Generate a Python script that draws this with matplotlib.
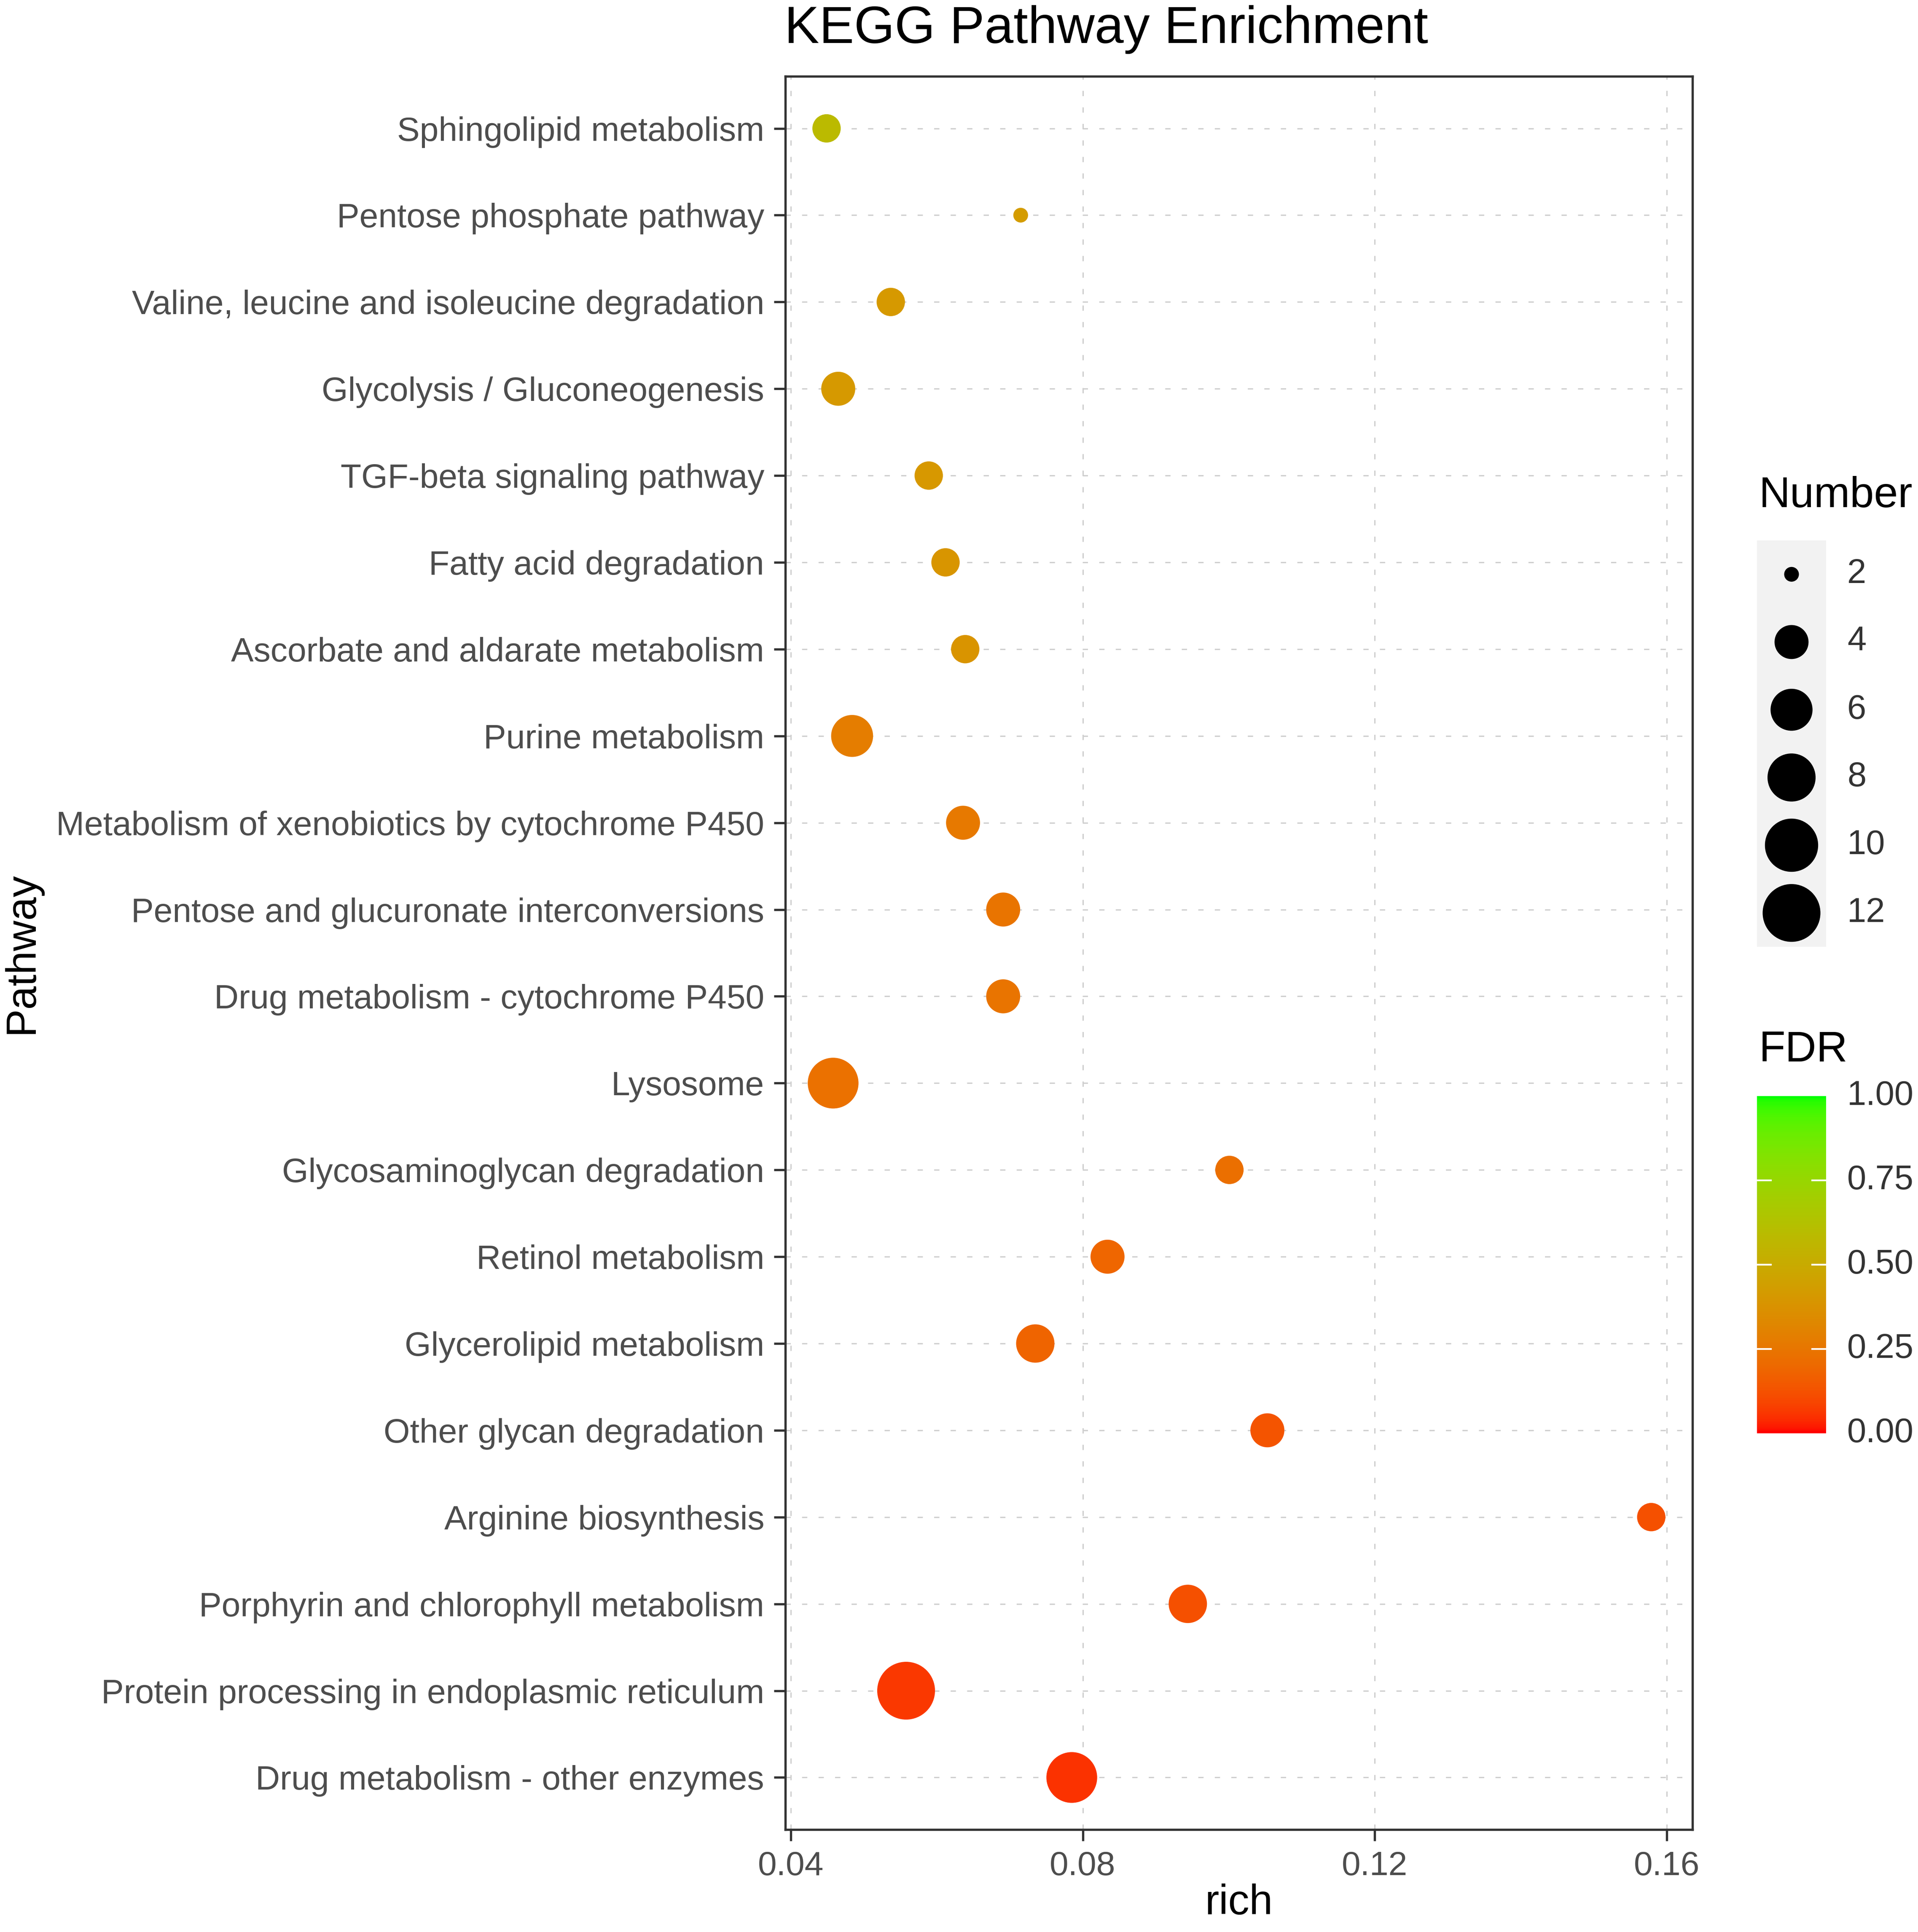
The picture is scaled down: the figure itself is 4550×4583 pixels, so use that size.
import numpy as np
import matplotlib
matplotlib.use("Agg")
import matplotlib.pyplot as plt
from matplotlib.colors import ListedColormap

plt.rcParams['font.family'] = ['Liberation Sans', 'DejaVu Sans']
plt.rcParams['lines.scale_dashes'] = False

# ---------------- data ----------------
pathways = [
    "Sphingolipid metabolism",
    "Pentose phosphate pathway",
    "Valine, leucine and isoleucine degradation",
    "Glycolysis / Gluconeogenesis",
    "TGF-beta signaling pathway",
    "Fatty acid degradation",
    "Ascorbate and aldarate metabolism",
    "Purine metabolism",
    "Metabolism of xenobiotics by cytochrome P450",
    "Pentose and glucuronate interconversions",
    "Drug metabolism - cytochrome P450",
    "Lysosome",
    "Glycosaminoglycan degradation",
    "Retinol metabolism",
    "Glycerolipid metabolism",
    "Other glycan degradation",
    "Arginine biosynthesis",
    "Porphyrin and chlorophyll metabolism",
    "Protein processing in endoplasmic reticulum",
    "Drug metabolism - other enzymes",
]
rich = [0.0449, 0.0715, 0.0537, 0.0465, 0.0589, 0.0612, 0.0639, 0.0484,
        0.0636, 0.0691, 0.0691, 0.0458, 0.1001, 0.0834, 0.0735, 0.1053,
        0.1579, 0.0944, 0.0558, 0.0785]
number = [3, 2, 3, 4, 3, 3, 3, 6, 4, 4, 4, 9, 3, 4, 5, 4, 3, 5, 12, 9]
fdr = [0.58, 0.42, 0.41, 0.41, 0.40, 0.39, 0.38, 0.28, 0.26, 0.24,
       0.24, 0.23, 0.22, 0.19, 0.18, 0.13, 0.12, 0.12, 0.06, 0.05]

size_breaks = [2, 4, 6, 8, 10, 12]
fdr_breaks = [0.00, 0.25, 0.50, 0.75, 1.00]
x_ticks = [0.04, 0.08, 0.12, 0.16]

# ---------------- helpers ----------------
def srgb_to_lab(rgb):
    rgb = np.asarray(rgb, float)
    lin = np.where(rgb <= 0.04045, rgb / 12.92, ((rgb + 0.055) / 1.055) ** 2.4)
    M = np.array([[0.4124, 0.3576, 0.1805],
                  [0.2126, 0.7152, 0.0722],
                  [0.0193, 0.1192, 0.9505]])
    xyz = M @ lin / np.array([0.95047, 1.0, 1.08883])
    f = np.where(xyz > 0.008856, np.cbrt(xyz), 7.787 * xyz + 16 / 116)
    return np.array([116 * f[1] - 16, 500 * (f[0] - f[1]), 200 * (f[1] - f[2])])

def lab_to_srgb(lab):
    L, a, b = lab
    fy_ = (L + 16) / 116
    fx_ = fy_ + a / 500
    fz_ = fy_ - b / 200
    f = np.array([fx_, fy_, fz_])
    xyz = np.where(f > 0.206893, f ** 3, (f - 16 / 116) / 7.787)
    xyz = xyz * np.array([0.95047, 1.0, 1.08883])
    Minv = np.array([[3.2406, -1.5372, -0.4986],
                     [-0.9689, 1.8758, 0.0415],
                     [0.0557, -0.2040, 1.0570]])
    lin = np.clip(Minv @ xyz, 0, 1)
    rgb = np.where(lin <= 0.0031308, 12.92 * lin, 1.055 * lin ** (1 / 2.4) - 0.055)
    return np.clip(rgb, 0, 1)

lab_lo = srgb_to_lab([1, 0, 0])
lab_hi = srgb_to_lab([0, 1, 0])
cmap = ListedColormap([lab_to_srgb(lab_lo + (lab_hi - lab_lo) * t)
                       for t in np.linspace(0, 1, 256)])

D_MIN, D_MAX = 8.4, 32.9  # marker diameters in points
n_min, n_max = min(number), max(number)

def diam(n):
    n = np.asarray(n, float)
    return D_MIN + (D_MAX - D_MIN) * np.sqrt((n - n_min) / (n_max - n_min))

# ---------------- figure ----------------
W, H = 4550, 4583
DPI = 300
fig = plt.figure(figsize=(W / DPI, H / DPI), dpi=DPI)
fig.patch.set_facecolor('white')

def fx(px):
    return px / W

def fy(py):
    return 1 - py / H

TICK_FS = 19.3
LEG_FS = 19.5

L_, R_, T_, B_ = 1863, 4015, 181, 4340
ax = fig.add_axes([fx(L_), fy(B_), (R_ - L_) / W, (B_ - T_) / H])

ypos = np.arange(len(pathways))
ax.scatter(rich, ypos, s=diam(number) ** 2, c=fdr, cmap=cmap, vmin=0, vmax=1,
           edgecolors='none', zorder=3)

rng = max(rich) - min(rich)
ax.set_xlim(min(rich) - 0.05 * rng, max(rich) + 0.05 * rng)
ax.set_ylim(len(pathways) - 0.4, -0.6)
ax.set_xticks(x_ticks)
ax.set_xticklabels([f"{v:.2f}" for v in x_ticks])
ax.set_yticks(ypos)
ax.set_yticklabels(pathways)

ax.set_axisbelow(True)
ax.grid(True, color='#CFCFCF', lw=0.75, linestyle=(0, (3.0, 6.4)))
for s in ax.spines.values():
    s.set_color('#333333')
    s.set_linewidth(1.3)
ax.tick_params(length=6.5, width=1.3, color='#333333', labelsize=TICK_FS,
               labelcolor='#4D4D4D', pad=5.5)

# titles
fig.text(fx(1861), fy(102), 'KEGG Pathway Enrichment', fontsize=29.7,
         ha='left', va='baseline', color='black')
fig.text(fx(52), fy(2260), 'Pathway', fontsize=24, rotation=90,
         ha='center', va='center', color='black')
fig.text(fx(2939), fy(4515), 'rich', fontsize=24, ha='center', va='center',
         color='black')

# ---------------- Number legend ----------------
fig.text(fx(4173), fy(1177), 'Number', fontsize=24.6, ha='left', va='center',
         color='black')
kx0, kx1, ky0, ky1 = 4168, 4332, 1282, 2246
axn = fig.add_axes([fx(kx0), fy(ky1), (kx1 - kx0) / W, (ky1 - ky0) / H])
axn.set_facecolor('#F2F2F2')
for s in axn.spines.values():
    s.set_visible(False)
axn.set_xticks([])
axn.set_yticks([])
axn.set_xlim(0, 1)
axn.set_ylim(len(size_breaks) - 0.5, -0.5)
kpos = np.arange(len(size_breaks))
axn.scatter(np.full(len(size_breaks), 0.5), kpos, s=diam(size_breaks) ** 2,
            c='black', edgecolors='none', clip_on=False)
cell = (ky1 - ky0) / len(size_breaks)
for i, b in enumerate(size_breaks):
    fig.text(fx(4382), fy(ky0 + cell * (i + 0.5)), str(b), fontsize=LEG_FS,
             ha='left', va='center', color='#333333')

# ---------------- FDR colorbar ----------------
fig.text(fx(4173), fy(2492), 'FDR', fontsize=24.6, ha='left', va='center',
         color='black')
cx0, cx1, cy0, cy1 = 4168, 4332, 2600, 3400
axc = fig.add_axes([fx(cx0), fy(cy1), (cx1 - cx0) / W, (cy1 - cy0) / H])
grad = np.linspace(0, 1, 300).reshape(-1, 1)
axc.imshow(grad, cmap=cmap, vmin=0, vmax=1, aspect='auto', origin='lower',
           extent=[0, 1, 0, 1])
for s in axc.spines.values():
    s.set_visible(False)
axc.set_xticks([])
axc.set_yticks([])
axc.set_xlim(0, 1)
axc.set_ylim(0, 1)
for v in fdr_breaks[1:-1]:
    axc.plot([0, 0.2], [v, v], color='white', lw=1.0)
    axc.plot([0.8, 1], [v, v], color='white', lw=1.0)
for v in fdr_breaks:
    fig.text(fx(4382), fy(cy1 - (cy1 - cy0) * v), f"{v:.2f}", fontsize=LEG_FS,
             ha='left', va='center', color='#333333')

fig.savefig('out.png', dpi=DPI, facecolor='white')
